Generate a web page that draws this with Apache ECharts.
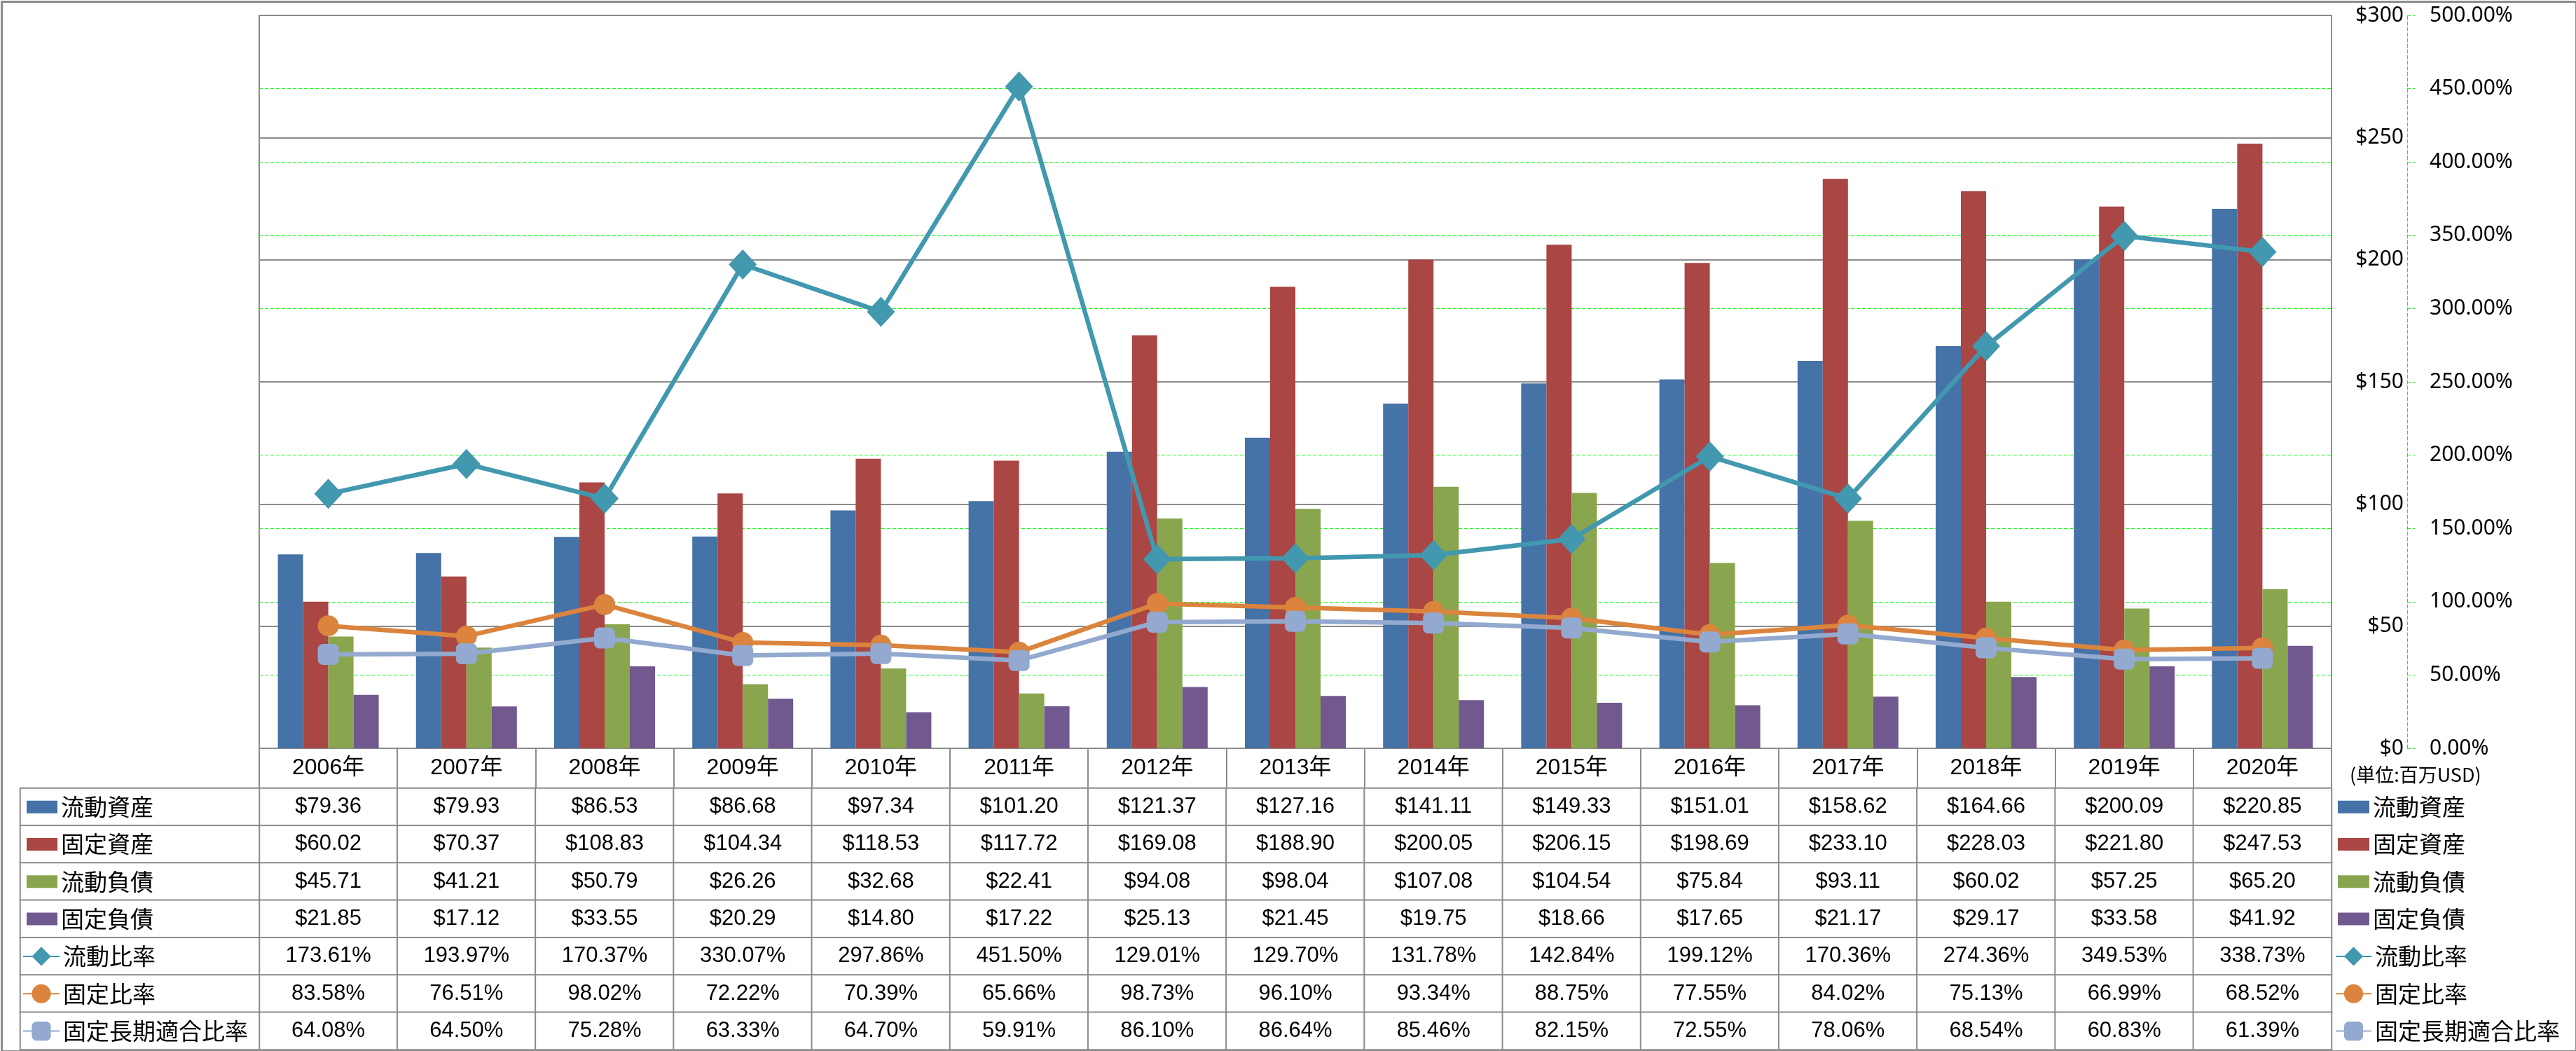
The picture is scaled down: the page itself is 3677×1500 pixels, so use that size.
<!DOCTYPE html>
<html>
<head>
<meta charset="utf-8">
<script src="https://cdn.jsdelivr.net/npm/echarts@6/dist/echarts.min.js"></script>
<style>
html,body{margin:0;padding:0;background:#fff;}
#chart{width:3677px;height:1500px;}
</style>
</head>
<body>
<div id="chart"></div>
<script>
// ---- data ----
const years = ['2006年','2007年','2008年','2009年','2010年','2011年','2012年','2013年','2014年','2015年','2016年','2017年','2018年','2019年','2020年'];
const seriesNames = ['流動資産','固定資産','流動負債','固定負債','流動比率','固定比率','固定長期適合比率'];
const currentAssets = [79.36,79.93,86.53,86.68,97.34,101.20,121.37,127.16,141.11,149.33,151.01,158.62,164.66,200.09,220.85];
const fixedAssets = [60.02,70.37,108.83,104.34,118.53,117.72,169.08,188.90,200.05,206.15,198.69,233.10,228.03,221.80,247.53];
const currentLiabilities = [45.71,41.21,50.79,26.26,32.68,22.41,94.08,98.04,107.08,104.54,75.84,93.11,60.02,57.25,65.20];
const fixedLiabilities = [21.85,17.12,33.55,20.29,14.80,17.22,25.13,21.45,19.75,18.66,17.65,21.17,29.17,33.58,41.92];
const currentRatio = [173.61,193.97,170.37,330.07,297.86,451.50,129.01,129.70,131.78,142.84,199.12,170.36,274.36,349.53,338.73];
const fixedRatio = [83.58,76.51,98.02,72.22,70.39,65.66,98.73,96.10,93.34,88.75,77.55,84.02,75.13,66.99,68.52];
const fixedLongTermRatio = [64.08,64.50,75.28,63.33,64.70,59.91,86.10,86.64,85.46,82.15,72.55,78.06,68.54,60.83,61.39];
const unitLabel = '(単位:百万USD)';

const colors = ['#4572A7','#AA4643','#89A54E','#71588F','#4198AF','#DB843D','#93A9CF'];
const rows = [currentAssets, fixedAssets, currentLiabilities, fixedLiabilities, currentRatio, fixedRatio, fixedLongTermRatio];

// table cells
const tableCells = [];
rows.forEach((arr, r) => arr.forEach((v, c) => tableCells.push([c, r, v])));
const labelCells = seriesNames.map((n, r) => [0, r, 0]);

const GRAY = '#8c8c8c';
const GREEN = '#00ff00';
const numFont = "'Liberation Sans','Noto Sans CJK JP',sans-serif";
const jpFont = "'Noto Sans CJK JP',sans-serif";

const chart = echarts.init(document.getElementById('chart'), null, {renderer: 'canvas'});

const legendBase = {
  orient: 'vertical', padding: 0, itemGap: 0, selectedMode: false,
  textStyle: {fontSize: 33, fontFamily: jpFont, color: '#000', lineHeight: 53.3}
};
const barNames = seriesNames.slice(0, 4);
const lineNames = seriesNames.slice(4);

const barSeries = [0,1,2,3].map(i => ({
  name: seriesNames[i], type: 'bar', xAxisIndex: 0, yAxisIndex: 0,
  data: rows[i], barWidth: 36, barGap: '0%',
  itemStyle: {color: colors[i]}, z: 2, silent: true
}));
const symbols = ['diamond','circle','roundRect'];
const symbolSizes = [[40,43],30,30];
const lineSeries = [4,5,6].map((i, k) => ({
  name: seriesNames[i], type: 'line', xAxisIndex: 0, yAxisIndex: 1,
  data: rows[i], symbol: symbols[k], symbolSize: symbolSizes[k],
  lineStyle: {color: colors[i], width: 6.5},
  itemStyle: {color: colors[i]}, z: 5 + k, silent: true
}));

const option = {
  animation: false,
  backgroundColor: '#fff',
  color: colors,
  grid: [
    {left: 370, right: 349, top: 22, bottom: 432, show: true, borderColor: GRAY, borderWidth: 2, containLabel: false, outerBoundsMode: 'none'},
    {left: 370, right: 349, top: 1125, bottom: 2, containLabel: false, outerBoundsMode: 'none'},
    {left: 29, width: 341, top: 1125, bottom: 2, containLabel: false, outerBoundsMode: 'none'}
  ],
  xAxis: [
    {type: 'category', gridIndex: 0, data: years, boundaryGap: true,
     axisLine: {show: true, lineStyle: {color: GRAY, width: 2}},
     axisTick: {show: true, interval: 0, length: 57, lineStyle: {color: GRAY, width: 2}},
     axisLabel: {interval: 0, margin: 28, verticalAlign: 'middle', fontSize: 32, fontFamily: numFont, color: '#000'},
     splitLine: {show: false}},
    {type: 'category', gridIndex: 1, data: years, show: false},
    {type: 'category', gridIndex: 2, data: [''], show: false}
  ],
  yAxis: [
    {type: 'value', gridIndex: 0, min: 0, max: 300, interval: 50, position: 'right', z: 1,
     axisLine: {show: false}, axisTick: {show: false},
     splitLine: {show: true, lineStyle: {color: GRAY, width: 2}},
     axisLabel: {align: 'right', margin: 103, fontSize: 30, fontFamily: "'Noto Sans',sans-serif", color: '#000',
       formatter: v => '$' + v}},
    {type: 'value', gridIndex: 0, min: 0, max: 500, interval: 50, position: 'right', offset: 108, z: 0,
     axisLine: {show: true, lineStyle: {color: GREEN, width: 1, type: [5,3]}},
     axisTick: {show: true, length: 11, lineStyle: {color: GREEN, width: 1, type: [5,3]}},
     splitLine: {show: true, lineStyle: {color: GREEN, width: 1, type: [5,3]}},
     axisLabel: {align: 'left', margin: 32, fontSize: 30, fontFamily: "'Noto Sans',sans-serif", color: '#000',
       formatter: v => v.toFixed(2) + '%'}},
    {type: 'category', gridIndex: 1, data: seriesNames, inverse: true, show: false},
    {type: 'category', gridIndex: 2, data: seriesNames, inverse: true, show: false}
  ],
  legend: [
    Object.assign({}, legendBase, {left: 38, top: 1125, itemWidth: 44, itemHeight: 18, icon: 'rect', data: barNames}),
    Object.assign({}, legendBase, {left: 32, top: 1338.3, itemWidth: 52, itemHeight: 34, data: lineNames}),
    Object.assign({}, legendBase, {left: 3337, top: 1125, itemWidth: 45, itemHeight: 18, icon: 'rect', data: barNames}),
    Object.assign({}, legendBase, {left: 3333, top: 1338.3, itemWidth: 51, itemHeight: 34, data: lineNames})
  ],
  graphic: [
    {type: 'text', left: 3354, top: 1092, silent: true,
     style: {text: unitLabel, fontSize: 27, fontFamily: jpFont, fill: '#000'}},
    {type: 'rect', left: 0, top: 0, silent: true, z: 100,
     shape: {x: 0, y: 0, width: 3675, height: 1498},
     style: {fill: 'none', stroke: GRAY, lineWidth: 3}}
  ],
  series: barSeries.concat(lineSeries).concat([
    {type: 'heatmap', name: 'table', xAxisIndex: 1, yAxisIndex: 2, data: tableCells, silent: true,
     itemStyle: {color: '#ffffff', borderColor: GRAY, borderWidth: 2},
     emphasis: {disabled: true},
     label: {show: true, fontSize: 31, fontFamily: numFont, color: '#000',
       formatter: p => p.value[1] < 4 ? '$' + p.value[2].toFixed(2) : p.value[2].toFixed(2) + '%'}},
    {type: 'heatmap', name: 'rowheads', xAxisIndex: 2, yAxisIndex: 3, data: labelCells, silent: true,
     itemStyle: {color: '#ffffff', borderColor: GRAY, borderWidth: 2},
     emphasis: {disabled: true}, label: {show: false}}
  ])
};
chart.setOption(option);
</script>
</body>
</html>
